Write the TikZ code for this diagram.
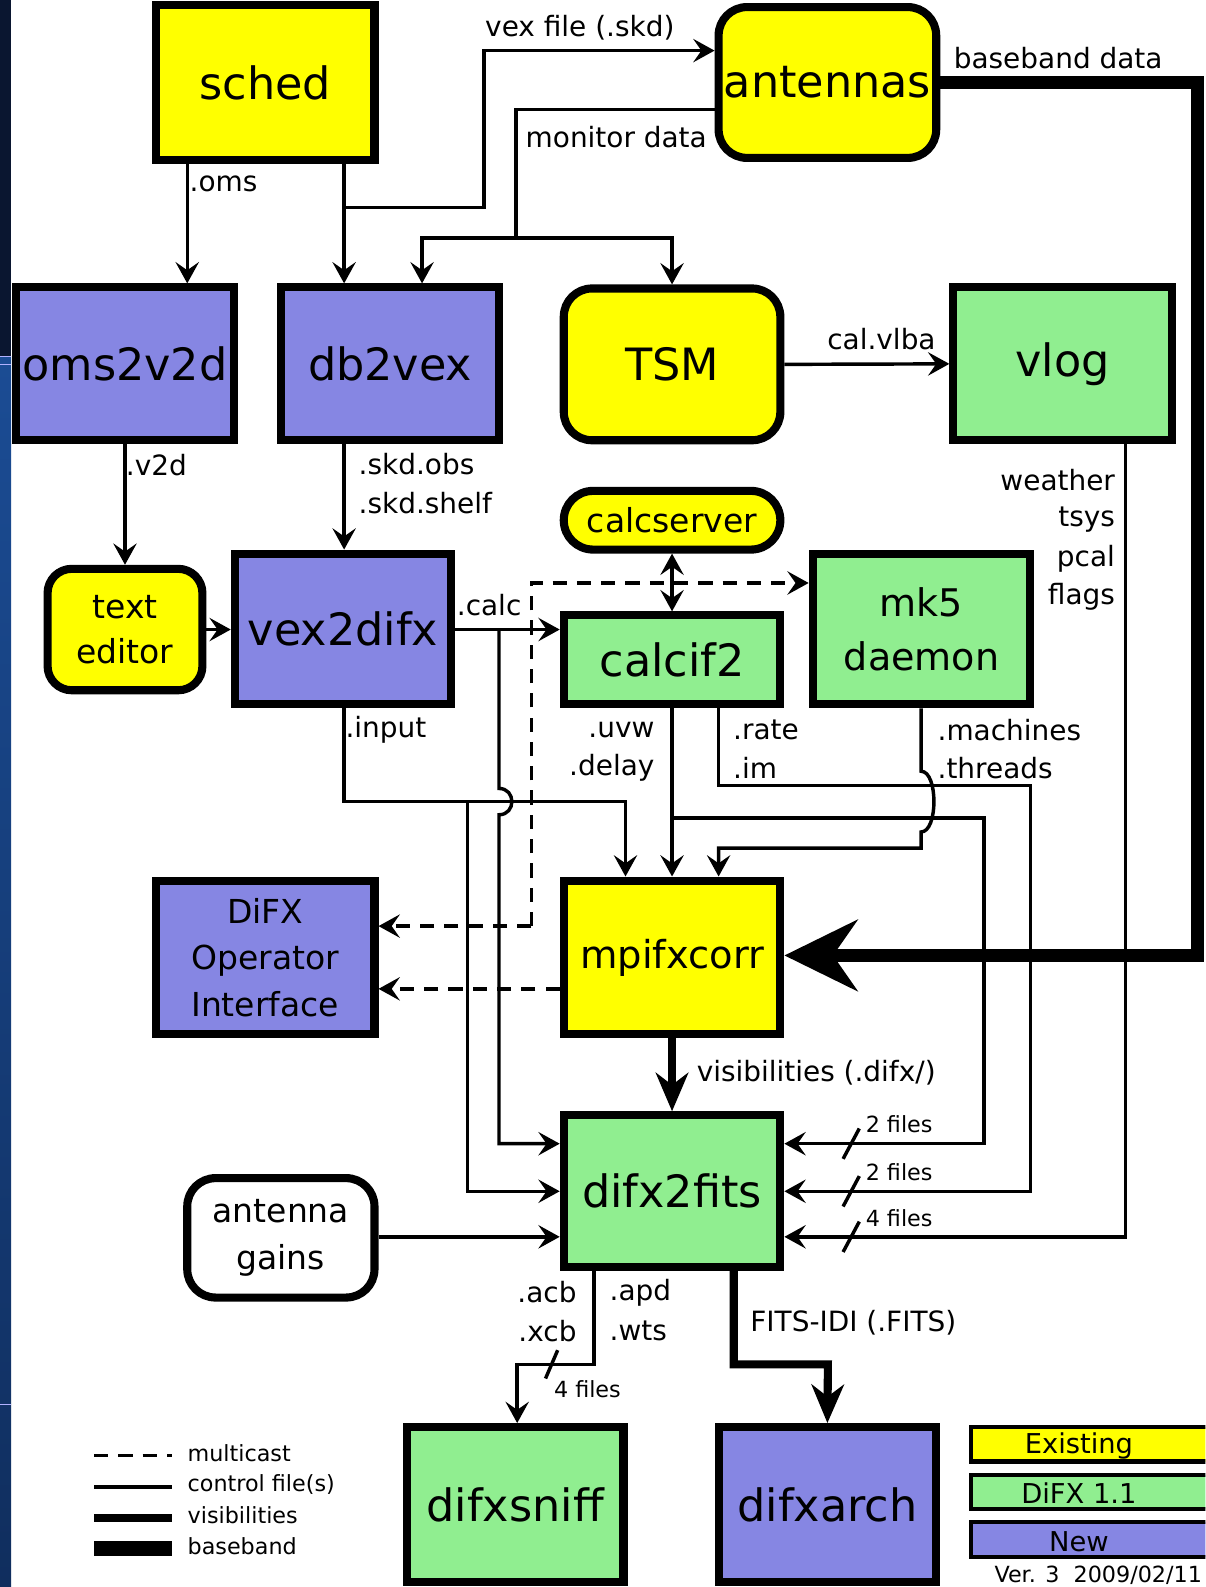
\documentclass[tikz,border=0pt]{standalone}
\usepackage{fontspec}
\setmainfont{DejaVu Sans}
\usetikzlibrary{arrows.meta}
\definecolor{existing}{RGB}{255,255,0}
\definecolor{difxgreen}{RGB}{144,238,144}
\definecolor{newblue}{RGB}{134,134,227}
\definecolor{navytop}{RGB}{10,22,48}
\definecolor{stripmid}{RGB}{27,76,148}
\definecolor{stripbot}{RGB}{16,46,94}
\tikzset{
  prog/.style={draw, line width=4pt, inner sep=0pt, align=center},
  big/.style={font=\fontsize{22}{26}\selectfont},
  mid/.style={font=\fontsize{16.3}{23}\selectfont},
  lbl/.style={font=\fontsize{13.8}{19}\selectfont, inner sep=0pt},
  small/.style={font=\fontsize{11}{13}\selectfont, inner sep=0pt},
  keybox/.style={draw, line width=2pt, inner sep=0pt},
  ctl/.style={line width=1.7pt, -{Stealth[length=10.5pt,width=11.5pt,inset=4pt]}},
  ctlboth/.style={line width=1.7pt, {Stealth[length=10.5pt,width=11.5pt,inset=4pt]}-{Stealth[length=10.5pt,width=11.5pt,inset=4pt]}},
  mcast/.style={ctl, dash pattern=on 7pt off 5pt},
  vis/.style={line width=4pt, -{Stealth[length=19pt,width=16pt,inset=6pt]}},
  base/.style={line width=6.5pt, -{Stealth[length=36pt,width=35pt,inset=12pt]}},
}
\begin{document}
\begin{tikzpicture}[x=0.5pt,y=-0.5pt]
\useasboundingbox (0,0) rectangle (1191,1568);
\clip (0,0) rectangle (1191,1568);
\fill[white] (0,0) rectangle (1191,1568);
% left strip
\fill[navytop] (0,0) rectangle (11,352);
\shade[top color=stripmid, bottom color=stripbot] (0,352) rectangle (11,1568);
\draw[white!70!blue, line width=0.6pt] (0,352) -- (11,352) (0,360) -- (11,360) (0,1388) -- (11,1388);

% programs
\node[prog, big, fill=existing, minimum width=108pt, minimum height=76.5pt] (sched) at (262,81.5) {sched};
\node[prog, big, fill=existing, rounded corners=14pt, minimum width=107.5pt, minimum height=74.5pt] (antennas) at (817.5,81.5) {antennas};
\node[prog, big, fill=newblue, minimum width=107.5pt, minimum height=75.5pt] (oms) at (123.5,359.5) {oms2v2d};
\node[prog, big, fill=newblue, minimum width=107.5pt, minimum height=75.5pt] (db2vex) at (385.5,359.5) {db2vex};
\node[prog, big, fill=existing, rounded corners=14pt, minimum width=107pt, minimum height=75pt] (tsm) at (664,360) {TSM};
\node[prog, big, fill=difxgreen, minimum width=108pt, minimum height=75.5pt] (vlog) at (1050,359.5) {vlog};
\node[prog, mid, fill=existing, rounded corners=12pt, minimum width=76.5pt, minimum height=60pt, font=\fontsize{16.3}{22.5}\selectfont] (texted) at (123.5,622) {text\\editor};
\node[prog, big, fill=newblue, minimum width=107pt, minimum height=74.5pt] (vex2difx) at (339,621.5) {vex2difx};
\node[prog, mid, fill=existing, rounded corners=14.5pt, minimum width=107pt, minimum height=29pt] (calcserver) at (664,514) {calcserver};
\node[prog, big, fill=difxgreen, minimum width=107pt, minimum height=44pt] (calcif2) at (664,652) {calcif2};
\node[prog, fill=difxgreen, minimum width=107.5pt, minimum height=74.5pt, font=\fontsize{18.8}{26.5}\selectfont] (mk5) at (910.5,621.5) {mk5\\daemon};
\node[prog, mid, fill=newblue, minimum width=108pt, minimum height=76pt] (doi) at (262,946) {DiFX\\Operator\\Interface};
\node[prog, fill=existing, minimum width=107pt, minimum height=76pt, font=\fontsize{19}{23}\selectfont] (mpifxcorr) at (664,946) {mpifxcorr};
\node[prog, mid, fill=white, rounded corners=14pt, minimum width=92.5pt, minimum height=59pt] (gains) at (277.5,1223) {antenna\\gains};
\node[prog, big, fill=difxgreen, minimum width=107pt, minimum height=75pt] (difx2fits) at (664,1177) {difx2fits};
\node[prog, big, fill=difxgreen, minimum width=107pt, minimum height=76.5pt] (difxsniff) at (509,1486.5) {difxsniff};
\node[prog, big, fill=newblue, minimum width=107.5pt, minimum height=76.5pt] (difxarch) at (817.5,1486.5) {difxarch};

% schedule files
\draw[ctl] (185,0 |- sched.south) -- (185,0 |- oms.north);
\node[lbl, anchor=west] (omslbl) at (187,182) {.oms};
\draw[ctl] (340,0 |- sched.south) -- (340,0 |- db2vex.north);
\draw[ctl] (340,205) -- (478,205) -- (478,50) -- (antennas.west |- 0,50);
\node[lbl, anchor=west] (vexlbl) at (479,27) {vex file (.skd)};

% monitor data
\draw[line width=1.7pt] (antennas.west |- 0,108) -- (510,108) -- (510,235);
\draw[ctl] (510,235) -| (417,0 |- db2vex.north);
\draw[ctl] (510,235) -| (tsm.north);
\node[lbl, anchor=west] (monlbl) at (519,135) {monitor data};

% baseband
\draw[base] (antennas.east) -- (1183,81.5) -- (1183,944) -- (mpifxcorr.east |- 0,944);
\node[lbl, anchor=west] (baselbl) at (942,57) {baseband data};

\draw[ctl] (tsm.east) -- (vlog.west);
\node[lbl, anchor=west] (cal) at (817,335) {cal.vlba};

\draw[ctl] (oms.south) -- (texted.north);
\node[lbl, anchor=west] (v2d) at (124,460) {.v2d};
\draw[ctl] (340,0 |- db2vex.south) -- (340,0 |- vex2difx.north);
\node[lbl, anchor=west] (skdobs) at (354,459) {.skd.obs};
\node[lbl, anchor=west] (skdshelf) at (354,497) {.skd.shelf};
\draw[ctl] (texted.east) -- (vex2difx.west |- texted.east);

% vex2difx outputs
\draw[ctl] (vex2difx.east |- 0,622) -- (calcif2.west |- 0,622);
\node[lbl, anchor=west] (calc) at (451,598) {.calc};
\draw[ctl] (493,622) -- (493,779) .. controls (510,779) and (510,805) .. (493,805) -- (493,1130) -- (difx2fits.west |- 0,1130);
\draw[ctl] (340,0 |- vex2difx.south) -- (340,792) -- (618,792) -- (618,0 |- mpifxcorr.north);
\draw[ctl] (462,792) -- (462,1177) -- (difx2fits.west);
\node[lbl, anchor=west] (input) at (341,721) {.input};

\draw[ctlboth] (calcserver.south) -- (calcif2.north);

% multicast
\draw[mcast] (525,915) -- (525,576) -- (mk5.west |- 0,576);
\draw[mcast] (525,915) -- (doi.east |- 0,915);
\draw[mcast] (mpifxcorr.west |- 0,977) -- (doi.east |- 0,977);

% calcif2 outputs
\draw[ctl] (calcif2.south) -- (mpifxcorr.north);
\draw[ctl] (664,808) -- (972,808) -- (972,1130) -- (difx2fits.east |- 0,1130);
\node[lbl, anchor=east] (uvw) at (647,721) {.uvw};
\node[lbl, anchor=east] (delay) at (647,759) {.delay};
\draw[ctl] (710,0 |- calcif2.south) -- (710,776) -- (1018,776) -- (1018,1177) -- (difx2fits.east);
\node[lbl, anchor=west] (rate) at (724,721) {.rate};
\node[lbl, anchor=west] (im) at (724,759) {.im};

% mk5 daemon
\draw[ctl] (910,0 |- mk5.south) -- (910,762) .. controls (927,762) and (927,822) .. (910,822) -- (910,838) -- (710,838) -- (710,0 |- mpifxcorr.north);
\node[lbl, anchor=west] (machines) at (926,721) {.machines};
\node[lbl, anchor=west] (threads) at (926,759) {.threads};

% vlog
\draw[ctl] (1112,0 |- vlog.south) -- (1112,1222) -- (difx2fits.east |- 0,1222);
\node[lbl, anchor=east] (weather) at (1102,474) {weather};
\node[lbl, anchor=east] (tsys) at (1102,513) {tsys};
\node[lbl, anchor=east] (pcal) at (1102,552) {pcal};
\node[lbl, anchor=east] (flags) at (1102,590) {flags};

% file counts
\draw[line width=1.7pt] (833,1145) -- (849,1115);
\node[small, anchor=west] (nf1) at (855,1111) {2 files};
\draw[line width=1.7pt] (833,1192) -- (849,1162);
\node[small, anchor=west] (nf2) at (855,1158) {2 files};
\draw[line width=1.7pt] (833,1237) -- (849,1207);
\node[small, anchor=west] (nf3) at (855,1204) {4 files};

\draw[ctl] (gains.east |- 0,1222) -- (difx2fits.west |- 0,1222);
\draw[vis] (mpifxcorr.south) -- (difx2fits.north);
\node[lbl, anchor=west] (vislbl) at (688,1060) {visibilities (.difx/)};

% difx2fits outputs
\draw[ctl] (587,0 |- difx2fits.south) -- (587,1348) -- (511,1348) -- (511,0 |- difxsniff.north);
\node[lbl, anchor=east] (acb) at (570,1277) {.acb};
\node[lbl, anchor=east] (xcb) at (570,1315) {.xcb};
\node[lbl, anchor=west] (apd) at (602,1277) {.apd};
\node[lbl, anchor=west] (wts) at (602,1315) {.wts};
\draw[line width=1.7pt] (539,1362) -- (551,1334);
\node[small, anchor=west] (nf4) at (547,1373) {4 files};
\draw[vis] (725,0 |- difx2fits.south) -- (725,1348) -- (818,1348) -- (difxarch.north);
\node[lbl, anchor=west] (fitslbl) at (741,1307) {FITS-IDI (.FITS)};

% line key
\draw[line width=1.7pt, dash pattern=on 7pt off 5pt] (93,1438) -- (170,1438);
\draw[line width=1.7pt] (93,1469) -- (170,1469);
\draw[line width=4pt] (93,1500) -- (170,1500);
\draw[line width=7pt] (93,1530) -- (170,1530);
\node[small, anchor=west] (kmulti) at (185,1436) {multicast};
\node[small, anchor=west] (kctl) at (185,1467) {control file(s)};
\node[small, anchor=west] (kvis) at (185,1497) {visibilities};
\node[small, anchor=west] (kbase) at (185,1528) {baseband};

% colour key
\node[keybox, fill=existing, minimum width=119.5pt, minimum height=17pt] (kexist) at (1078.5,1427) {};
\node[keybox, fill=difxgreen, minimum width=119.5pt, minimum height=17pt] (kdifx) at (1078.5,1474) {};
\node[keybox, fill=newblue, minimum width=119.5pt, minimum height=17pt] (knew) at (1078.5,1521) {};
\node[lbl, font=\fontsize{13.5}{16}\selectfont] at (1066,1429) {Existing};
\node[lbl, font=\fontsize{13.5}{16}\selectfont] at (1066,1475) {DiFX 1.1};
\node[lbl, font=\fontsize{13.5}{16}\selectfont] at (1066,1523) {New};
\node[small, anchor=east] (ver) at (1188,1556) {Ver. 3\ \ 2009/02/11};
\end{tikzpicture}
\end{document}
